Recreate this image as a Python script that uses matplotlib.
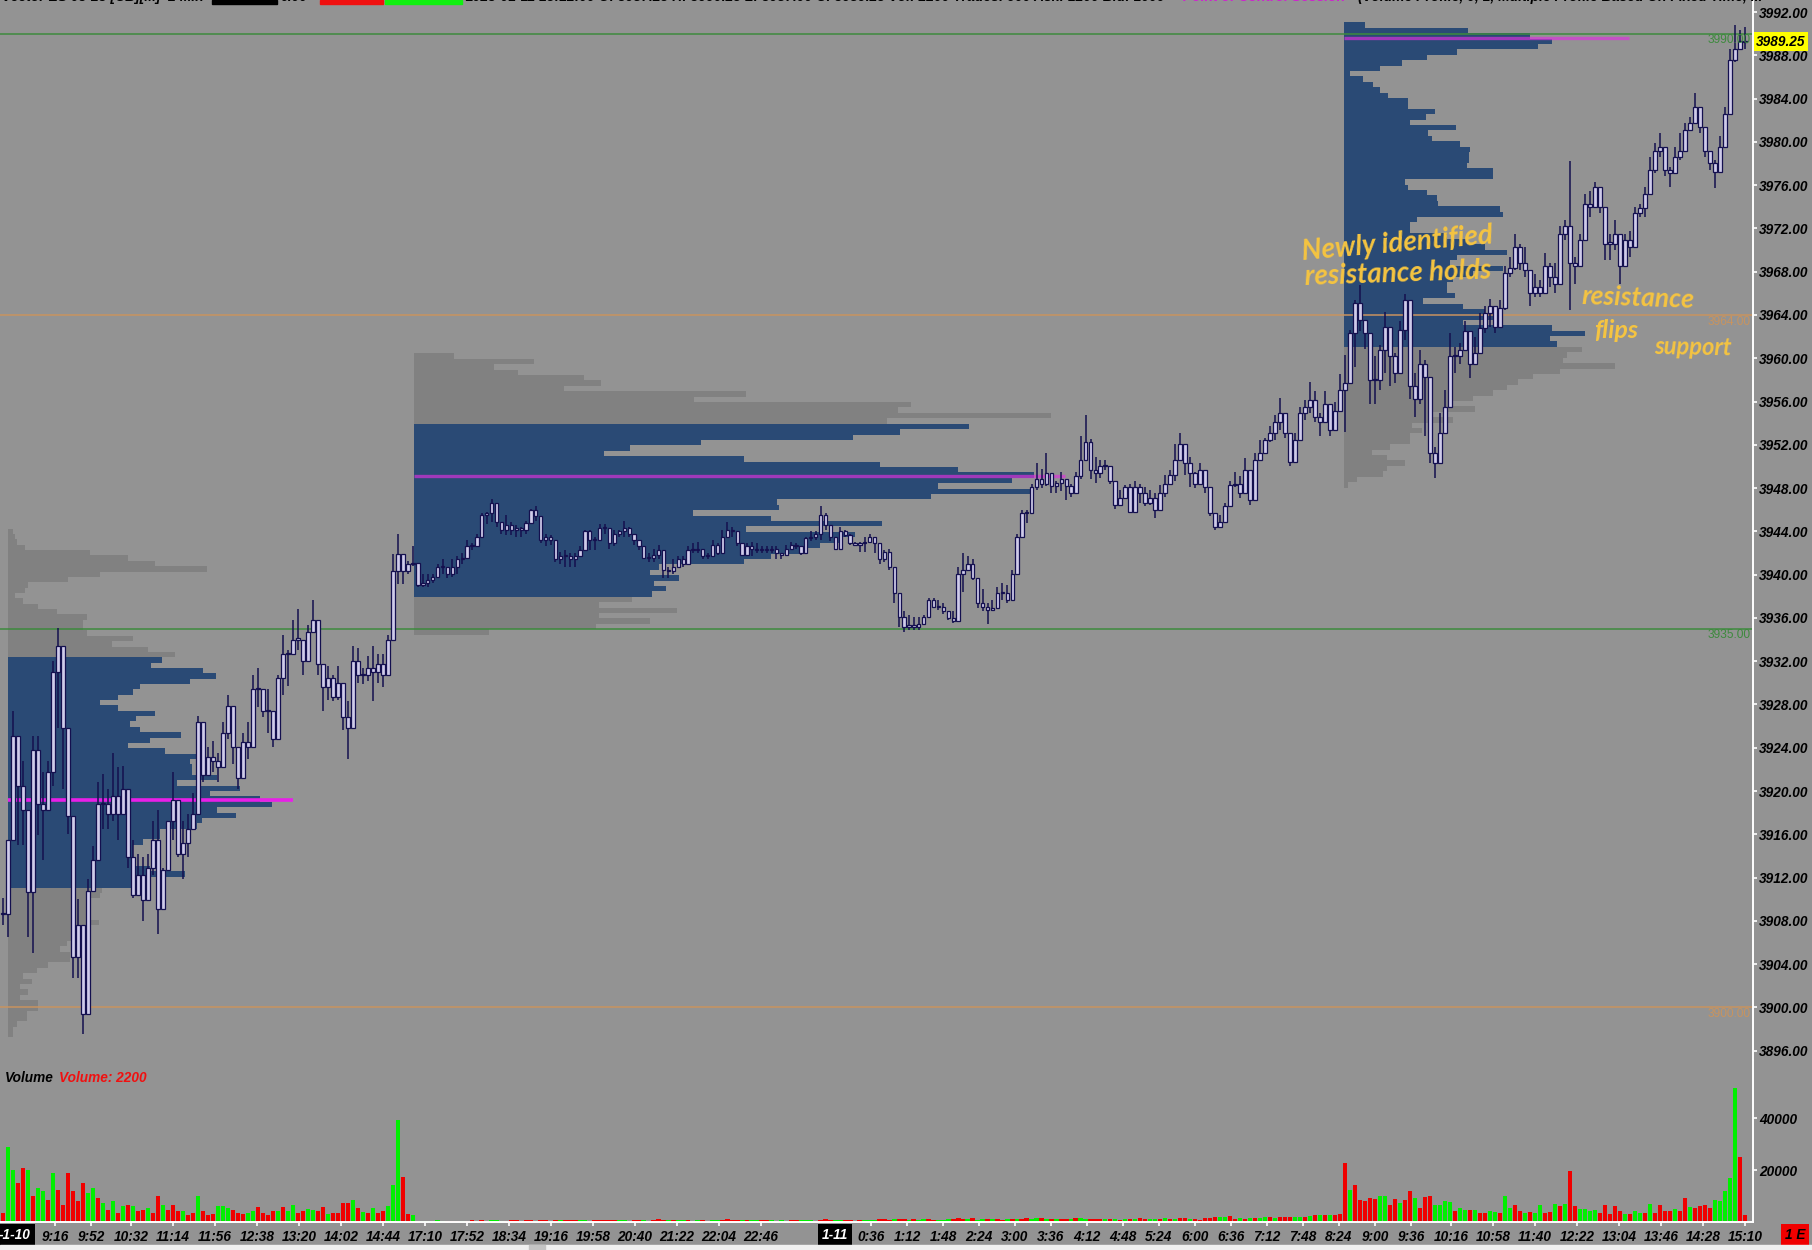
import numpy as np
import matplotlib
matplotlib.use("Agg")
import matplotlib.pyplot as plt
from matplotlib.patches import Rectangle

BG = "#939393"
NAVY = "#2A4A75"
GREY = "#818181"
CANDLE_EDGE = "#14104F"
CANDLE_FILL = "#CFCBEA"
FONT = ["Liberation Sans", "DejaVu Sans"]
LABEL_SIZE = 9.8

# bars of the first session (cash session 1-10)
s1_high = [3910.1,3915.5,3927.4,3925.1,3922.8,3918.2,3925.1,3925.1,3921.8,3922.8,3932,3935.1,3927.4,3925.8,3910,3910,3907,3911.9,3914.9,3920.8,3921.6,3920.2,3923.5,3922.2,3922.3,3917.9,3915.5,3914.2,3913.9,3914.2,3917.2,3918.2,3912.9,3917.2,3921.8,3917.2,3917.2,3917.9,3919.8,3926.9,3925.4,3924.1,3924.6,3923.5,3926.4,3928.9,3927.4,3924.1,3925.4,3926.4,3930.7,3931.4,3929.1,3929.4,3927.4,3930.7,3934.4,3933,3935.8,3936.8,3934,3935.3,3937.7,3933.9,3931.7,3931.6,3930.7,3931.6,3929.1,3928.3,3933.4,3933.2,3931.4,3932.5,3933.4,3932.7,3932.7,3934.4,3941.9,3943.8,3941.5,3941.3,3942.6]
s1_low = [3907.6,3906.5,3915.5,3915,3915,3906.5,3905,3915.9,3913.6,3918.2,3920.5,3925.8,3920.2,3916,3902.7,3902.7,3897.5,3903.3,3911.9,3913.6,3916.5,3916.5,3917.2,3915.5,3917.9,3912.9,3910.1,3910.3,3908,3910.9,3912.2,3906.8,3909,3912.6,3915.5,3913.9,3911.9,3913.9,3916.5,3917.9,3920.8,3921.5,3921.8,3920.8,3922.8,3924.8,3922.5,3920.2,3921.2,3923,3926.4,3927.8,3926.8,3925.4,3924.1,3924.8,3928.9,3929.7,3932.7,3933,3930.7,3932,3934.7,3930.7,3927.4,3928.4,3928.3,3928.4,3925.6,3923,3926.4,3930,3929.9,3930.2,3928.3,3930,3929.6,3930.7,3935.3,3939.1,3939.1,3940.1,3940.8]
s1_close = [3908.6,3915.5,3925.1,3920.5,3918.2,3910.7,3923.8,3918.8,3918.2,3921.8,3931,3933.4,3925.8,3917.7,3904.7,3907.6,3899.4,3910.8,3913.6,3918.8,3918.8,3917.9,3919.5,3917.9,3920.2,3913.9,3910.4,3912.2,3909.9,3912.9,3915.5,3909.1,3912.7,3917.2,3919.2,3914.2,3915.2,3916.5,3917.9,3926.4,3921.5,3923.1,3922.8,3922.2,3925.4,3927.9,3924.1,3921.2,3924.5,3924.1,3929.4,3929.4,3927.4,3927.4,3924.8,3930.4,3932.7,3932.7,3934,3934,3932,3934.7,3935.8,3931.7,3929.6,3930.4,3928.7,3930,3926.8,3925.8,3932,3930.7,3930.7,3931.4,3931,3931.7,3930.7,3934,3940.3,3941.9,3940.3,3941,3941.1]

# bars of the overnight session
s2_high = [3941.1,3940.1,3940.1,3940.1,3941,3941.4,3940.7,3941.4,3941.7,3942,3943.2,3942.9,3943.8,3945.7,3945.8,3947,3945.7,3944.4,3945.5,3944.9,3944.6,3944.4,3945,3946.1,3946.3,3944.8,3943.8,3943.7,3942.7,3942.1,3942.3,3942,3942,3942.6,3944.1,3944.1,3943.5,3944.7,3944.7,3944.1,3944.1,3944.1,3945,3944.4,3943.5,3942.9,3942.3,3942,3942.4,3942.7,3941.4,3940.7,3941.4,3941.7,3941.7,3942.6,3942.9,3943,3942.4,3942,3943.2,3942.9,3944.1,3944.9,3944.4,3943.5,3942.6,3942.9,3943,3942.9,3942.6,3942.6,3942.6,3942.6,3942,3942.7,3943,3942.9,3942.6,3943.5,3944,3944,3946.3,3945.7,3944.4,3943.4,3944.4,3944.1,3943.8,3943,3943,3943.5,3943.8,3943.4,3942.4,3942.3,3942.4,3940.3,3937.7,3936.6,3936.3,3936.1,3936.1,3936.3,3937.8,3937.8,3937.7,3937.4,3936.6,3936.6,3940.7,3942,3941.7,3941.4,3939.7,3938.7,3937.4,3937.7,3938.9,3939.2,3939,3940.4,3943.8,3946,3946,3948.4,3950.3,3949.8,3951.2,3948.9,3948.7,3949.5,3948.7,3948.4,3949.5,3952.8,3954.8,3952.5,3950.9]
s2_low = [3938.9,3938.9,3938.9,3939.2,3939.8,3940.1,3939.7,3939.8,3940.1,3941,3941.4,3942.3,3942.6,3943.5,3944.7,3944.9,3944.4,3943.8,3943.7,3943.7,3943.5,3943.5,3943.8,3944.8,3945,3942.9,3942.6,3942.7,3941.2,3941,3940.7,3940.7,3940.7,3941.7,3942.3,3942.3,3942.3,3943.2,3943.8,3942.4,3942.6,3943.5,3943.5,3943.5,3942.7,3942.3,3941.4,3941.2,3941.2,3941.4,3939.7,3939.7,3940.1,3940.7,3940.7,3941.7,3942,3942,3941.4,3941.4,3942,3941.8,3942.4,3943.4,3943.5,3942.6,3941.7,3941.7,3941.7,3942,3942,3942,3942,3941.4,3941.4,3942,3942.3,3942.4,3941.8,3942.6,3943.1,3943.2,3943.2,3944.1,3943.1,3942.3,3942.9,3943.5,3942.7,3942.6,3942.1,3942.1,3943.1,3942,3941,3941.2,3940.4,3937.4,3935.2,3934.7,3934.9,3934.9,3934.9,3935.5,3936.1,3936.9,3936.7,3936.4,3935.8,3935.5,3935.7,3938.4,3940.3,3939.5,3936.9,3936.6,3935.4,3936.6,3937,3937.7,3937.4,3937.7,3940.1,3943.5,3944.8,3945.7,3947.8,3948,3948.2,3947.5,3947.5,3947.7,3946.9,3947.2,3948,3948.8,3951.2,3948.8,3948.5]
s2_close = [3939,3939.2,3939.5,3939.8,3940.7,3940.7,3940.1,3940.7,3941.4,3941.5,3942.6,3942.6,3943.5,3945.5,3945.7,3946.6,3944.9,3944.1,3944.6,3944.1,3944.3,3944.1,3944.8,3946,3945.4,3943.2,3943.5,3943.2,3941.4,3941.7,3941.7,3941.4,3941.7,3942.3,3944,3943.2,3943.2,3944.3,3944.3,3942.9,3943.8,3944,3944.3,3943.8,3943.2,3942.6,3941.5,3941.5,3941.8,3942.3,3940.4,3940.3,3940.7,3941.4,3941,3942.3,3942.3,3942.4,3941.7,3941.7,3942.7,3942,3943.5,3944.1,3944,3942.9,3941.8,3942.6,3942.4,3942.3,3942.4,3942.3,3942.4,3942,3941.8,3942.4,3942.7,3942.6,3942,3943.4,3943.5,3943.8,3945.5,3944.6,3943.5,3942.4,3944,3943.7,3942.9,3942.7,3942.9,3943,3943.5,3942.9,3941.4,3942.1,3940.7,3938.3,3936.1,3935.2,3935.2,3935.2,3935.4,3936.1,3937.7,3937,3937,3936.6,3936,3935.7,3940.1,3940.4,3941,3939.7,3937.4,3937,3936.7,3936.9,3938.3,3938.3,3937.7,3940.1,3943.5,3945.7,3945.7,3948.1,3948.8,3948.4,3949.4,3948.2,3948.5,3948.8,3948.2,3947.5,3949.1,3950.6,3952.3,3949.7,3949.4]

# bars from 1-11 early morning through the cash session
s3_high = [3950.6,3950.6,3949.7,3948.1,3947.8,3948.3,3948.4,3948.7,3948.4,3948.1,3947.8,3947.5,3948.3,3949.2,3949.7,3952.1,3953.1,3951.2,3950.9,3949.5,3950.3,3949.4,3947.2,3945.4,3945.5,3946.6,3948.7,3949.5,3949.1,3950.8,3949.1,3951.2,3952.4,3952.6,3953.7,3954.8,3956.3,3954.6,3952.8,3953.1,3955.5,3956.1,3957.8,3957,3954.9,3957,3955.2,3956,3958.5,3960.3,3962.6,3965.4,3966.8,3963.5,3960.8,3960.2,3961.2,3964.3,3961,3960.5,3963.4,3965.9,3961.5,3958.6,3960.8,3959.8,3954.3,3951.8,3954.9,3957.1,3962.3,3961,3961.4,3963.4,3961.4,3962,3964.2,3964.8,3965.5,3964.8,3965.4,3968.5,3969.4,3971.5,3970.6,3970.3,3967.2,3967.8,3967.2,3969.7,3968.8,3968.8,3972.2,3972.8,3978.2,3969.4,3971.5,3975.2,3975.5,3976.3,3975.8,3974,3971.5,3972.8,3970.9,3971.5,3971.8,3974,3974.3,3975.8,3978.6,3979.9,3980.8,3978.3,3977.7,3979.5,3980.8,3981.7,3982.3,3984.5,3983.2,3980.8,3978.9,3978.3,3980.5,3983.2,3988.6,3990.8,3990.3,3990.6]
s3_low = [3948.9,3949.7,3948.4,3946.1,3946.3,3947.2,3945.7,3947.2,3946.6,3946.3,3946.4,3945.2,3946.9,3947.2,3948.3,3948.7,3951.5,3949.2,3948.1,3948,3949.2,3947.5,3945.4,3944.1,3944.4,3945.4,3947.2,3948.1,3947.1,3949.1,3946.4,3948.1,3950.6,3951.4,3952.3,3952.4,3953.4,3952.6,3950,3950.3,3953.1,3954.3,3954.9,3954.1,3952.8,3954.9,3952.8,3954.3,3955.2,3953.2,3959.2,3959.2,3962.5,3960.9,3955.8,3955.8,3957.1,3958.6,3957.4,3957.7,3960.2,3961.7,3956.2,3954.6,3955.8,3952.8,3950.3,3948.9,3951.5,3953.1,3956.5,3958.6,3959.5,3960.8,3958.2,3959.5,3960.5,3962.3,3962.9,3962.3,3963.9,3964.5,3967.5,3968.2,3968.2,3967.5,3964.8,3965.7,3965.7,3966,3966.6,3966,3968.5,3970.9,3964.5,3966.9,3968.5,3971.5,3973.1,3974,3973.4,3969.1,3969.1,3970,3966.9,3969.4,3969.4,3971.5,3973.1,3973.1,3975.2,3977.1,3978.6,3976.8,3975.8,3977.7,3978.3,3979.2,3981.1,3982,3980.8,3978.6,3977.4,3975.7,3978,3980.5,3984.2,3987.4,3988.6,3988.6]
s3_close = [3950,3950,3948.7,3946.4,3947.1,3948.1,3945.8,3948.1,3947.5,3946.6,3947.1,3946,3947.5,3948.4,3949.2,3950.6,3952.1,3950.3,3949.4,3948.4,3949.7,3948.1,3945.7,3944.4,3944.9,3946.3,3948.3,3948.4,3947.5,3949.7,3946.9,3950.6,3951.2,3952.4,3953.1,3954.1,3954.9,3953.1,3950.4,3952.4,3954.9,3955.5,3956.1,3954.6,3954.1,3955.8,3953.4,3955.1,3957.1,3957.7,3962.3,3965.1,3963.5,3962.3,3958,3958,3960.8,3962.9,3960.2,3958.6,3962.6,3965.4,3957.4,3956.2,3959.5,3958.3,3951.2,3950.3,3953.1,3955.5,3960.2,3960.2,3960.8,3962.5,3959.5,3960.5,3962.8,3964.2,3964.8,3962.9,3964.6,3967.9,3968.3,3970.3,3968.8,3968.2,3966,3966.6,3966,3968.5,3967.5,3966.9,3971.5,3972.2,3968.8,3968.5,3970.9,3974.3,3974,3975.8,3974,3970.6,3970.6,3971.5,3968.5,3970.9,3970.3,3973.4,3973.9,3975.2,3977.4,3979.2,3979.5,3977.4,3977.1,3978.6,3979.2,3981.1,3981.7,3983.2,3981.4,3979.2,3978,3977.2,3979.5,3982.6,3987.6,3988.6,3989.3,3989.25]

# volume per bar, negative means a down bar (red)
s1_vol = [-3500,29000,20000,-15000,-20700,20000,-10200,13000,11800,-8600,18800,-12200,-6700,-18800,-11800,-7900,-15000,11100,13000,-9200,7300,-4700,7900,-3500,6000,-6700,6000,-4400,-4700,5400,-3500,-9900,6700,-4500,-6700,-4100,4100,-2800,-3500,10200,-4400,-2600,-3100,6000,6000,5400,-4700,-3300,-3100,3500,4100,-5600,-3500,-2800,-4100,4400,-5600,4100,6400,-3500,-4100,5100,4700,-4100,-5600,3100,-3500,-3500,-7300,-7500,8600,-5400,3800,-3500,5400,-3500,-4400,6000,14300,39300,-17500,-3100,2800]
s2_vol = [-400,300,400,500,600,500,-400,-500,-400,300,-500,-600,-400,-700,-500,600,700,500,-500,-700,-600,-500,-700,-600,500,-800,-600,500,-600,600,-700,-800,-600,600,700,-500,-600,-700,-800,-600,-900,700,600,-500,-800,-700,600,-500,-900,-1000,-800,600,-700,600,700,-800,500,600,-700,-500,800,700,-900,-1100,-800,-900,600,-700,800,900,-600,-800,700,-500,600,500,-700,-800,900,700,600,-500,-900,-1000,-700,600,800,-700,-600,500,-800,600,700,900,-1200,-1000,-900,1000,-1300,-1100,900,-1000,800,1000,-1200,-900,800,700,1100,-1000,-1500,-1100,1200,-1400,900,1000,-1200,1300,-1000,-900,1200,-1300,1100,-1200,-1400,1300,1400,-1500,1300,-1200,1000,-1100,-1300,1200,-1600,1400,1200,-1300,-1100]
s3_vol = [-1000,1200,-1100,1300,-900,1000,-1200,1300,-1400,-1100,1200,1000,-1300,1500,-1200,1300,-1400,-1500,1200,-1300,-900,-1500,-1500,-1800,1800,1900,-2200,-1200,1500,-1300,1400,-1500,1500,1800,-1900,1500,-1900,-2000,-2000,1900,1800,-1900,2200,-2600,2600,-2700,2700,-2800,-3200,-22900,12400,-14100,-8600,-7900,-9200,-9000,9900,10200,-6700,-9000,7300,-8600,-11800,9200,-5400,-9600,-10200,6700,6400,7900,7700,-4400,5400,4700,-4700,4600,-3500,-3500,4400,3800,-3500,10100,5400,-6700,-4400,3600,-3800,3600,6700,-3500,-3700,6900,-6000,6900,-19500,-6000,5100,5100,4100,4700,-3500,-6400,-3200,-6000,-4100,3100,-3100,4400,3500,-3600,6900,-3500,-6700,-4400,-4100,5000,-4100,-9200,5600,-5400,-6000,-6400,-5400,8600,7900,11800,16900,51700,-25200,-2800]

# volume profiles, one width per price level from the top of the profile down
p1_widths = [5,7,9,17,82,120,147,199,92,60,20,17,7,15,30,49,79,75,75,79,125,104,140,167,154,143,195,208,182,132,125,110,92,110,147,128,122,132,173,142,120,157,189,182,184,184,209,169,232,202,252,264,209,228,194,189,152,152,135,125,125,125,125,142,177,142,125,94,92,82,79,79,80,91,82,72,72,59,52,62,62,40,29,15,24,12,20,12,30,30,19,19,9,5,5]
p2_widths = [40,120,80,104,170,187,150,332,280,497,484,637,473,555,486,439,287,216,190,330,466,544,620,598,524,618,517,363,365,279,357,468,332,441,428,406,388,357,330,245,236,265,240,252,238,218,185,263,185,236,182,75]
p3_widths = [21,124,186,208,194,113,83,58,36,6,19,29,36,44,64,64,91,82,66,112,84,88,116,126,125,125,123,149,149,61,64,83,93,94,156,159,73,66,66,103,123,141,163,113,106,159,129,109,103,103,111,79,119,141,159,119,208,241,206,213,238,223,219,271,216,189,174,163,149,129,106,131,86,109,68,78,66,66,46,28,43,61,43,39,13,4]

p1_top, p1_step, p1_va = 3944.0, 0.495, (3911.0, 3932.5)
p2_top, p2_step, p2_va = 3960.2, 0.5, (3938.0, 3953.7)
p3_top, p3_step, p3_va = 3990.8, 0.5, (3961.2, 3992.0)
poc_levels = [3919.2, 3949.1, 3989.6]
poc_lengths = [285, 651, 285]

level_lines = [(3990, "#3D8A3D"), (3964, "#C8935F"), (3935, "#3D8A3D"), (3900, "#C8935F")]
price_ticks = np.arange(3896, 3993, 4)
volume_ticks = [20000, 40000]

tick_labels = ["9:16","9:52","10:32","11:14","11:56","12:38","13:20","14:02","14:44","17:10","17:52","18:34","19:16","19:58","20:40","21:22","22:04","22:46",
               "0:36","1:12","1:48","2:24","3:00","3:36","4:12","4:48","5:24","6:00","6:36","7:12","7:48","8:24","9:00","9:36","10:16","10:58","11:40","12:22","13:04","13:46","14:28","15:10"]
tick_pos = [55,91,131,173,215,257,299,341,383,425,467,509,551,593,635,677,719,761,
            871,907,943,979,1015,1051,1087,1123,1159,1195,1231,1267,1303,1339,1375,1411,1451,1493,1535,1577,1619,1661,1703,1745]

fig = plt.figure(figsize=(18.12, 12.5), dpi=100, facecolor=BG)
ax = fig.add_axes([0, 190 / 1250, 1753 / 1812, 1060 / 1250], facecolor=BG)
ax_vol = fig.add_axes([0, 28 / 1250, 1753 / 1812, 162 / 1250], facecolor=BG)
fig.add_artist(Rectangle((0, 0), 1, 5 / 1250, transform=fig.transFigure, color="#F0F0F0"))
fig.add_artist(Rectangle((529 / 1812, 0), 16 / 1812, 5 / 1250, transform=fig.transFigure, color="#C4C4C4"))

ax.set_xlim(0, 1753)
ax.set_ylim(3895.14, 3993.11)
ax_vol.set_xlim(0, 1753)
ax_vol.set_ylim(0, 162 * 385)


# Draw one volume profile, navy inside the value area and grey outside
def draw_profile(left, widths, top, step, va):
    levels = top - step * np.arange(len(widths))
    colors = [NAVY if va[0] <= p <= va[1] else GREY for p in levels]
    ax.barh(levels, widths, height=step, left=left, color=colors, linewidth=0, zorder=1)


draw_profile(8, p1_widths, p1_top, p1_step, p1_va)
draw_profile(414, p2_widths, p2_top, p2_step, p2_va)
draw_profile(1344, p3_widths, p3_top, p3_step, p3_va)

ax.plot([8, 8 + poc_lengths[0]], [poc_levels[0]] * 2, color="#E81FE8", lw=2.6, solid_capstyle="butt", zorder=3)
ax.plot([414, 414 + poc_lengths[1]], [poc_levels[1]] * 2, color="#E030E0", alpha=0.65, lw=2.4, solid_capstyle="butt", zorder=3)
ax.plot([1344, 1344 + poc_lengths[2]], [poc_levels[2]] * 2, color="#E030E0", alpha=0.65, lw=2.4, solid_capstyle="butt", zorder=3)

for price, color in level_lines:
    ax.axhline(price, color=color, lw=1.1, zorder=2)
    ax.text(1751, price - 0.62, "%.2f" % price, color=color, fontsize=8.6, ha="right", va="center", family=FONT, zorder=6)

# Candles: the open of a bar is the close of the bar before
x_bars = np.concatenate([3 + 5 * np.arange(len(s1_close)), 418 + 4.91 * np.arange(len(s2_close)), 1100 + 5 * np.arange(len(s3_close))])
high = np.array(s1_high + s2_high + s3_high)
low = np.array(s1_low + s2_low + s3_low)
close = np.array(s1_close + s2_close + s3_close)
volume = np.array(s1_vol + s2_vol + s3_vol)
opens = np.r_[close[0], close[:-1]]

ax.vlines(x_bars, low, high, color=CANDLE_EDGE, lw=1.1, zorder=4)
ax.bar(x_bars, np.maximum(np.abs(close - opens), 0.1), bottom=np.minimum(close, opens), width=3.2,
       facecolor=CANDLE_FILL, edgecolor=CANDLE_EDGE, linewidth=0.9, zorder=5)

# Volume pane
vol_colors = ["#00F000" if v > 0 else "#F00000" for v in volume]
ax_vol.bar(x_bars, np.abs(volume), width=4.9, color=vol_colors, linewidth=0)
ax_vol.text(5, 0.889, "Volume", transform=ax_vol.get_xaxis_transform(), fontsize=LABEL_SIZE, family=FONT, style="italic", weight="bold", color="black", va="center")
ax_vol.text(59, 0.889, "Volume: 2200", transform=ax_vol.get_xaxis_transform(), fontsize=LABEL_SIZE, family=FONT, style="italic", weight="bold", color="#F01010", va="center")

# Axes in white, tick labels on the right and below
for a in (ax, ax_vol):
    for side in ("top", "left", "bottom"):
        a.spines[side].set_visible(False)
    a.spines["right"].set_color("white")
    a.spines["right"].set_linewidth(1.4)
    a.yaxis.tick_right()
ax_vol.spines["bottom"].set_visible(True)
ax_vol.spines["bottom"].set_color("white")
ax_vol.spines["bottom"].set_linewidth(1.4)

ax.set_xticks([])
ax.set_yticks(price_ticks)
ax.set_yticklabels(["%.2f" % p for p in price_ticks])
ax_vol.set_yticks(volume_ticks)
ax_vol.set_yticklabels([str(v) for v in volume_ticks])
ax_vol.set_xticks(tick_pos)
ax_vol.set_xticklabels(tick_labels)
for a in (ax, ax_vol):
    a.tick_params(axis="y", colors="white", length=3, width=1.2, pad=1.5, labelcolor="black", labelsize=LABEL_SIZE)
    for lab in a.get_yticklabels():
        lab.set_family(FONT)
        lab.set_style("italic")
        lab.set_weight("bold")
ax_vol.tick_params(axis="x", colors="white", length=3, width=1.2, pad=3, labelcolor="black", labelsize=LABEL_SIZE)
for lab in ax_vol.get_xticklabels():
    lab.set_family(FONT)
    lab.set_style("italic")
    lab.set_weight("bold")

date_box = dict(facecolor="black", edgecolor="none", pad=3)
date_tr = ax_vol.get_xaxis_transform()
ax_vol.text(15, -0.08, "-1-10", transform=date_tr, fontsize=LABEL_SIZE, family=FONT, style="italic", weight="bold", color="white", ha="center", va="center", bbox=date_box)
ax_vol.text(835, -0.08, "1-11", transform=date_tr, fontsize=LABEL_SIZE, family=FONT, style="italic", weight="bold", color="white", ha="center", va="center", bbox=date_box)
ax_vol.text(1795, -0.08, "1 E", transform=date_tr, fontsize=LABEL_SIZE, family=FONT, style="italic", weight="bold", color="black", ha="center", va="center", bbox=dict(facecolor="#F00000", edgecolor="none", pad=3))

# Last price flag
ax.text(1781, 3989.25, "3989.25", fontsize=LABEL_SIZE, family=FONT, style="italic", weight="bold", color="black", ha="center", va="center",
        bbox=dict(facecolor="#FFFF00", edgecolor="none", pad=2), zorder=7)

# Header line, mostly cut off at the top edge of the window
head_y = 1 + 3 / 1250
fig.text(2 / 1812, head_y, "Vector ES 03-23 [CB][M]  2 Min  #1", fontsize=10, family=FONT, style="italic", weight="bold", color="black", va="center")
for x0, x1, col in [(212, 277, "black"), (320, 383, "#F01010"), (385, 462, "#10F010")]:
    fig.add_artist(Rectangle((x0 / 1812, 1 - 4 / 1250), (x1 - x0) / 1812, 4 / 1250, transform=fig.transFigure, color=col))
fig.text(280 / 1812, head_y, "0.00", fontsize=10, family=FONT, style="italic", weight="bold", color="black", va="center")
fig.text(465 / 1812, head_y, "2023-01-11 15:12:00 O: 3987.25 H: 3990.25 L: 3987.00 C: 3989.25 Vol: 2200 Trades: 900 Ask: 1200 Bid: 1000", fontsize=10, family=FONT, style="italic", weight="bold", color="black", va="center")
fig.text(1345 / 1812, head_y, "Point of Control Session", fontsize=10, family=FONT, style="italic", weight="bold", color="#D020D0", va="center", ha="right")
fig.text(1358 / 1812, head_y, "(Volume Profile, 0, 1, Multiple Profile Based On Fixed Time, ...", fontsize=10, family=FONT, style="italic", weight="bold", color="black", va="center")

# Handwritten notes
notes = [("Newly identified", 1397, 3970.6, 5, 20), ("resistance holds", 1398, 3967.8, 2, 20),
         ("resistance", 1638, 3965.6, -2, 19), ("flips", 1616, 3962.6, 0, 18), ("support", 1693, 3961.0, -1, 17)]
for txt, x, y, rot, size in notes:
    ax.text(x, y, txt, color="#F5C441", fontsize=size, rotation=rot, family=["Lato", "DejaVu Sans"], style="italic", weight="bold",
            ha="center", va="center", rotation_mode="anchor", zorder=8)

fig.savefig("out.png", dpi=100, facecolor=BG)
